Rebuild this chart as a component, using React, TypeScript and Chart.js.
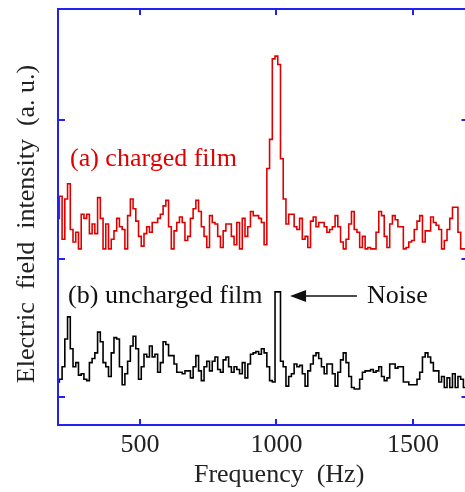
import { useEffect, useRef } from "react";
import { Chart, registerables } from "chart.js";
Chart.register(...registerables);

// Frequency grid (Hz)
const FREQ_START = 200;
const FREQ_STEP = 10;

// (a) charged film — electric field intensity (a. u.)
const CHARGED = [
  1.29, 1.45, 1.14, 1.43, 1.54, 1.21, 1.12, 1.19, 1.07, 1.32,
  1.29, 1.32, 1.18, 1.25, 1.18, 1.44, 1.29, 1.07, 1.25, 1.07,
  1.14, 1.20, 1.29, 1.23, 1.21, 1.07, 1.31, 1.43, 1.36, 1.27,
  1.16, 1.09, 1.18, 1.23, 1.19, 1.26, 1.26, 1.29, 1.32, 1.38,
  1.42, 1.23, 1.07, 1.20, 1.26, 1.30, 1.26, 1.13, 1.16, 1.29,
  1.36, 1.42, 1.34, 1.23, 1.16, 1.08, 1.31, 1.26, 1.25, 1.16,
  1.08, 1.20, 1.25, 1.25, 1.16, 1.10, 1.26, 1.07, 1.29, 1.16,
  1.23, 1.34, 1.31, 1.31, 1.29, 1.26, 1.10, 1.65, 1.86, 2.44,
  2.46, 2.40, 1.72, 1.43, 1.25, 1.32, 1.32, 1.23, 1.21, 1.29,
  1.14, 1.16, 1.08, 1.27, 1.30, 1.23, 1.26, 1.26, 1.23, 1.19,
  1.21, 1.23, 1.31, 1.23, 1.12, 1.07, 1.14, 1.25, 1.34, 1.21,
  1.19, 1.08, 1.16, 1.07, 1.08, 1.07, 1.07, 1.19, 1.34, 1.31,
  1.16, 1.08, 1.25, 1.31, 1.28, 1.23, 1.23, 1.07, 1.08, 1.12,
  1.13, 1.21, 1.27, 1.31, 1.12, 1.20, 1.20, 1.30, 1.26, 1.24,
  1.21, 1.07, 1.13, 1.21, 1.29, 1.37, 1.37, 1.19, 1.07, 1.07,
  1.07,
];

// (b) uncharged film — electric field intensity (a. u.)
const UNCHARGED = [
  0.11, 0.13, 0.22, 0.42, 0.58, 0.35, 0.22, 0.25, 0.16, 0.17,
  0.13, 0.12, 0.25, 0.28, 0.32, 0.47, 0.40, 0.25, 0.22, 0.15,
  0.32, 0.43, 0.42, 0.22, 0.09, 0.17, 0.26, 0.37, 0.44, 0.35,
  0.13, 0.22, 0.31, 0.29, 0.37, 0.29, 0.31, 0.18, 0.25, 0.40,
  0.38, 0.30, 0.30, 0.24, 0.18, 0.18, 0.17, 0.19, 0.19, 0.14,
  0.22, 0.30, 0.19, 0.12, 0.22, 0.26, 0.19, 0.26, 0.29, 0.20,
  0.18, 0.27, 0.29, 0.22, 0.18, 0.22, 0.20, 0.17, 0.25, 0.14,
  0.24, 0.31, 0.32, 0.33, 0.31, 0.35, 0.32, 0.22, 0.12, 0.11,
  0.76, 0.76, 0.26, 0.22, 0.08, 0.15, 0.17, 0.24, 0.22, 0.23,
  0.17, 0.08, 0.19, 0.24, 0.30, 0.32, 0.28, 0.22, 0.17, 0.24,
  0.24, 0.17, 0.08, 0.18, 0.27, 0.32, 0.25, 0.15, 0.07, 0.06,
  0.06, 0.13, 0.18, 0.19, 0.19, 0.20, 0.18, 0.19, 0.22, 0.15,
  0.12, 0.14, 0.24, 0.24, 0.21, 0.22, 0.22, 0.11, 0.11, 0.09,
  0.09, 0.09, 0.13, 0.18, 0.29, 0.32, 0.29, 0.25, 0.19, 0.19,
  0.11, 0.15, 0.07, 0.14, 0.07, 0.17, 0.07, 0.15, 0.13, 0.07,
  0.07,
];

const X_TICKS = [500, 1000, 1500];
const Y_TICKS = [0, 1, 2];
const X_MIN = 200;
const X_MAX = 1700;
const Y_MIN = -0.2;
const Y_MAX = 2.8;

const X_TITLE = "Frequency  (Hz)";
const X_TITLE_CENTER = 1010; // Hz
const Y_TITLE = "Electric  field  intensity  (a. u.)";
const Y_TITLE_CENTER = 1.25; // a. u.
const LABEL_A = "(a) charged film";
const LABEL_A_POS = [244, 1.72];
const LABEL_B = "(b) uncharged film";
const LABEL_B_POS = [237, 0.73];
const NOISE_LABEL = "Noise";
const NOISE_LABEL_POS = [1332, 0.73];
const ARROW_FROM = [1295, 0.73];
const ARROW_TO = [1050, 0.73];

const BLUE = "#2222f0";
const RED = "#e00000";
const FONT = "'Liberation Serif', 'Times New Roman', serif";

const framePlugin = {
  id: "frameAndNotes",
  afterDraw(chart: any) {
    const { ctx, chartArea, scales } = chart;
    const { left, right, top, bottom } = chartArea;
    const x = scales.x;
    const y = scales.y;
    ctx.save();
    ctx.strokeStyle = BLUE;
    ctx.lineWidth = 2;
    ctx.beginPath();
    ctx.rect(left, top, right - left, bottom - top);
    ctx.stroke();
    ctx.beginPath();
    for (const v of X_TICKS) {
      const px = Math.round(x.getPixelForValue(v));
      ctx.moveTo(px, bottom);
      ctx.lineTo(px, bottom - 6);
      ctx.moveTo(px, top);
      ctx.lineTo(px, top + 6);
    }
    for (const v of Y_TICKS) {
      const py = Math.round(y.getPixelForValue(v));
      ctx.moveTo(left, py);
      ctx.lineTo(left + 7, py);
      ctx.moveTo(right, py);
      ctx.lineTo(right - 6, py);
    }
    ctx.stroke();

    // in-plot labels
    ctx.font = `26px ${FONT}`;
    ctx.textBaseline = "middle";
    ctx.textAlign = "left";
    ctx.fillStyle = RED;
    ctx.fillText(LABEL_A, x.getPixelForValue(LABEL_A_POS[0]), y.getPixelForValue(LABEL_A_POS[1]));
    ctx.fillStyle = "#111";
    ctx.fillText(LABEL_B, x.getPixelForValue(LABEL_B_POS[0]), y.getPixelForValue(LABEL_B_POS[1]));
    ctx.fillText(NOISE_LABEL, x.getPixelForValue(NOISE_LABEL_POS[0]), y.getPixelForValue(NOISE_LABEL_POS[1]));

    // arrow
    const ax0 = x.getPixelForValue(ARROW_FROM[0]);
    const ay = y.getPixelForValue(ARROW_FROM[1]);
    const ax1 = x.getPixelForValue(ARROW_TO[0]);
    ctx.strokeStyle = "#111";
    ctx.lineWidth = 1.5;
    ctx.beginPath();
    ctx.moveTo(ax0, ay);
    ctx.lineTo(ax1 + 12, ay);
    ctx.stroke();
    ctx.fillStyle = "#111";
    ctx.beginPath();
    ctx.moveTo(ax1, ay);
    ctx.lineTo(ax1 + 16, ay - 6);
    ctx.lineTo(ax1 + 16, ay + 6);
    ctx.closePath();
    ctx.fill();

    // axis titles
    ctx.fillStyle = "#222";
    ctx.textAlign = "center";
    ctx.textBaseline = "middle";
    ctx.font = `26px ${FONT}`;
    ctx.fillText(X_TITLE, x.getPixelForValue(X_TITLE_CENTER), 475);
    ctx.translate(27, y.getPixelForValue(Y_TITLE_CENTER));
    ctx.rotate(-Math.PI / 2);
    ctx.font = `26px ${FONT}`;
    ctx.fillText(Y_TITLE, 0, 0);
    ctx.restore();
  },
};

export default function App() {
  const ref = useRef<HTMLCanvasElement | null>(null);
  useEffect(() => {
    const canvas = ref.current;
    if (!canvas) return;
    const toPoints = (arr: number[]) =>
      arr.map((v, i) => ({ x: FREQ_START + i * FREQ_STEP, y: v }));
    const chart = new Chart(canvas, {
      type: "line",
      data: {
        datasets: [
          {
            label: LABEL_A,
            data: toPoints(CHARGED),
            borderColor: RED,
            borderWidth: 1.6,
            pointRadius: 0,
            stepped: "middle",
            fill: false,
          },
          {
            label: LABEL_B,
            data: toPoints(UNCHARGED),
            borderColor: "#000",
            borderWidth: 1.6,
            pointRadius: 0,
            stepped: "middle",
            fill: false,
          },
        ],
      },
      options: {
        responsive: false,
        animation: false,
        devicePixelRatio: 1,
        layout: { padding: { left: 0, right: 2.5, top: 9, bottom: 0 } },
        plugins: { legend: { display: false }, tooltip: { enabled: false } },
        scales: {
          x: {
            type: "linear",
            min: X_MIN,
            max: X_MAX,
            afterBuildTicks: (s: any) => {
              s.ticks = X_TICKS.map((v) => ({ value: v }));
            },
            afterFit: (s: any) => {
              s.height = 67;
            },
            grid: { display: false, drawTicks: false },
            border: { display: false },
            ticks: {
              color: "#222",
              font: { family: FONT, size: 26 },
              padding: 5,
              maxRotation: 0,
              callback: (v: any) => String(v),
            },
            title: { display: false },
          },
          y: {
            type: "linear",
            min: Y_MIN,
            max: Y_MAX,
            afterBuildTicks: (s: any) => {
              s.ticks = Y_TICKS.map((v) => ({ value: v }));
            },
            afterFit: (s: any) => {
              s.width = 58;
            },
            grid: { display: false, drawTicks: false },
            border: { display: false },
            ticks: { display: false },
            title: { display: false },
          },
        },
      },
      plugins: [framePlugin],
    });
    return () => chart.destroy();
  }, []);
  return (
    <div
      style={{
        position: "fixed",
        left: 0,
        top: 0,
        width: 465,
        height: 492,
        overflow: "hidden",
        background: "#fff",
      }}
    >
      <canvas ref={ref} width={470} height={492} style={{ display: "block" }} />
    </div>
  );
}
